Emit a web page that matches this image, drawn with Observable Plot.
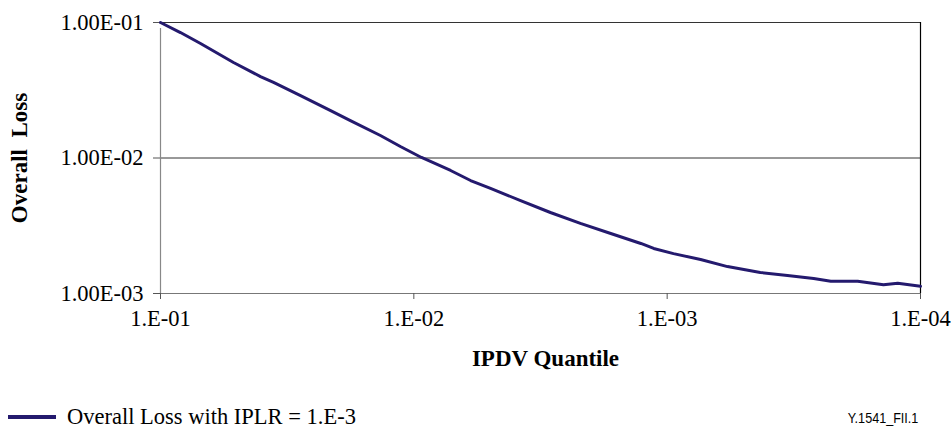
<!DOCTYPE html>
<html>
<head>
<meta charset="utf-8">
<script src="https://cdn.jsdelivr.net/npm/d3@7"></script>
<script src="https://cdn.jsdelivr.net/npm/@observablehq/plot@0.6"></script>
<style>
  html, body { margin: 0; padding: 0; background: #fff; }
  #wrap { position: relative; width: 951px; height: 430px; font-family: "Liberation Serif", "Times New Roman", serif; overflow: hidden; }
  #chart svg, #chart svg text { font-family: "Liberation Serif", "Times New Roman", serif !important; }
  #legend { position: absolute; left: 8px; top: 405px; height: 23px; line-height: 23px; display: flex; align-items: center; font-size: 22.5px; color: #000; white-space: nowrap; }
  #legend .sw { width: 48px; height: 4px; background: #241a6e; margin-right: 11px; }
  #caption { position: absolute; right: 33px; top: 410px; line-height: 16px; font-family: "Liberation Sans", Arial, sans-serif; font-size: 14px; color: #000; transform: scaleX(0.9); transform-origin: right; white-space: nowrap; }
</style>
</head>
<body>
<div id="wrap">
  <div id="chart"></div>
  <div id="legend"><div class="sw"></div><span>Overall Loss with IPLR = 1.E-3</span></div>
  <div id="caption">Y.1541_FII.1</div>
</div>
<script>
// IPDV quantile (x) and overall loss (y)
const quantile = [0.1, 0.0834, 0.0695, 0.0515, 0.0403, 0.0358, 0.0280, 0.0213, 0.0178, 0.01355, 0.0113,
  0.00933, 0.00716, 0.00597, 0.00498, 0.00379, 0.00289, 0.00220, 0.00167, 0.00127, 0.00113,
  0.000944, 0.000738, 0.000578, 0.000429, 0.000335, 0.000264, 0.000226, 0.000177, 0.000140, 0.000123, 0.0001];
const overallLoss = [0.1, 0.0843, 0.0700, 0.0507, 0.0399, 0.0361, 0.0289, 0.0224, 0.0189, 0.01466, 0.01216,
  0.01009, 0.00809, 0.00682, 0.00596, 0.00485, 0.00396, 0.00329, 0.00277, 0.00234, 0.00215,
  0.00197, 0.00178, 0.00158, 0.00143, 0.00136, 0.00129, 0.00123, 0.00123, 0.00116, 0.00119, 0.00113];
const xTicks = [1e-1, 1e-2, 1e-3, 1e-4];
const xTickLabels = ["1.E-01", "1.E-02", "1.E-03", "1.E-04"];
const yTicks = [1e-3, 1e-2, 1e-1];
const yTickLabels = ["1.00E-03", "1.00E-02", "1.00E-01"];
const yTitle = "Overall  Loss";
const xTitle = "IPDV Quantile";

const data = quantile.map((q, i) => ({q, loss: overallLoss[i]}));
const serif = "'Liberation Serif', 'Times New Roman', serif";

const chart = Plot.plot({
  width: 951,
  height: 400,
  marginTop: 22,
  marginBottom: 107,
  marginLeft: 160,
  marginRight: 31,
  style: {fontFamily: serif, background: "#fff", color: "#000", overflow: "visible"},
  x: {type: "log", domain: [1e-1, 1e-4]},
  y: {type: "log", domain: [1e-3, 1e-1]},
  marks: [
    Plot.ruleY(yTicks.slice(1), {stroke: "#333", strokeWidth: 1}),
    Plot.ruleX([1e-4], {stroke: "#000", strokeWidth: 1.2}),
    Plot.ruleX([1e-1], {stroke: "#888", strokeWidth: 1.2, y1: 1e-3, y2: 1e-1, insetBottom: -6}),
    Plot.ruleY([1e-3], {stroke: "#777", strokeWidth: 1.2}),
    Plot.axisX({ticks: xTicks, tickFormat: d => xTickLabels[xTicks.indexOf(d)], tickSize: 6, tickPadding: 11,
      fontSize: 22.5, fontFamily: serif, stroke: "#555", label: null}),
    Plot.axisY({ticks: yTicks, tickFormat: d => yTickLabels[yTicks.indexOf(d)], tickSize: 7, tickPadding: 10,
      fontSize: 22.5, fontFamily: serif, stroke: "#555", label: null}),
    Plot.line(data, {x: "q", y: "loss", stroke: "#241a6e", strokeWidth: 3, curve: "linear"}),
    Plot.text([yTitle], {frameAnchor: "left", textAnchor: "middle", dx: -141, dy: 0, rotate: -90, fontWeight: "bold", fontSize: 23, fontFamily: serif, fill: "#000"}),
    Plot.text([xTitle], {frameAnchor: "bottom", dx: 5, dy: 72, fontWeight: "bold", fontSize: 23, fontFamily: serif, fill: "#000"})
  ]
});
document.getElementById("chart").appendChild(chart);
</script>
</body>
</html>
